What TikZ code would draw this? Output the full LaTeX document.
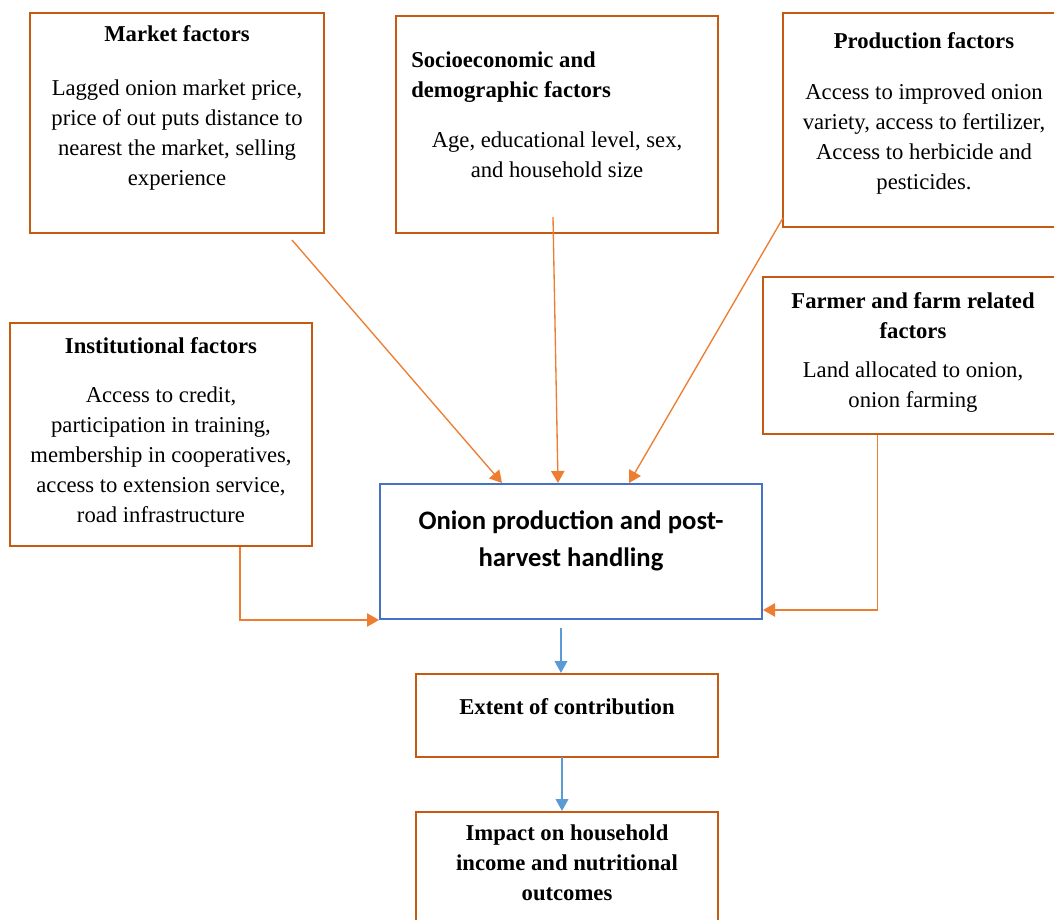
\documentclass[tikz,border=0pt]{standalone}
\usepackage{fontspec}
\setmainfont{Liberation Serif}
\newfontfamily\calfont{Carlito}
\usetikzlibrary{fit,arrows.meta,calc}
\definecolor{boxbrown}{HTML}{C55A11}
\definecolor{arrorange}{HTML}{ED7D31}
\definecolor{boxblue}{HTML}{4472C4}
\definecolor{arrblue}{HTML}{5B9BD5}
\tikzset{
  fbox/.style={draw=boxbrown, line width=1.5pt, inner sep=0pt, fill=white},
  cbox/.style={draw=boxblue, line width=1.5pt, inner sep=0pt},
  ttl/.style={inner sep=0pt, align=center, font=\fontsize{17}{22.5}\selectfont\bfseries, anchor=north},
  bdy/.style={inner sep=0pt, align=center, font=\fontsize{17}{22.5}\selectfont, anchor=north},
  oarr/.style={draw=arrorange, line width=1pt, -{Triangle[length=9pt,width=10pt]}},
  barr/.style={draw=arrblue, line width=1.3pt, -{Triangle[length=9pt,width=9.5pt]}}
}
\begin{document}
\begin{tikzpicture}[x=0.75pt,y=-0.75pt]
\useasboundingbox (0,0) rectangle (1054,920);
\clip (0,0) rectangle (1054,920);
\fill[white] (0,0) rectangle (1054,920);
% boxes
\node[fbox, fit={(30,13) (324,233)}] (market) {};
\node[fbox, fit={(396,16) (718,233)}] (socio) {};
\node[fbox, fit={(783,13) (1065,227)}] (prod) {};
\node[fbox, fit={(763,277) (1064,434)}] (farmer) {};
\node[fbox, fit={(10,323) (312,546)}] (inst) {};
\node[cbox, fit={(380,484) (762,619)}] (center) {};
\node[fbox, fit={(416,674) (718,757)}] (extent) {};
\node[fbox, fit={(416,812) (718,940)}] (impact) {};
% texts
\node[ttl] (marketT) at (177,25) {Market factors};
\node[bdy] (marketB) at (177,80) {Lagged onion market price,\\price of out puts distance to\\nearest the market, selling\\experience};
\node[ttl, anchor=north west, align=left] (socioT) at (411,52) {Socioeconomic and\\demographic factors};
\node[bdy] (socioB) at (557,132) {Age, educational level, sex,\\and household size};
\node[ttl] (prodT) at (924,32) {Production factors};
\node[bdy] (prodB) at (924,84) {Access to improved onion\\variety, access to fertilizer,\\Access to herbicide and\\pesticides.};
\node[ttl] (farmerT) at (913,292) {Farmer and farm related\\factors};
\node[bdy] (farmerB) at (913,362) {Land allocated to onion,\\onion farming};
\node[ttl] (instT) at (161,337) {Institutional factors};
\node[bdy] (instB) at (161,387) {Access to credit,\\participation in training,\\membership in cooperatives,\\access to extension service,\\road infrastructure};
\node[inner sep=0pt, align=center, anchor=north, font=\fontsize{20}{28}\selectfont\calfont\bfseries] (centerT) at (571,510) {Onion production and post-\\harvest handling};
\node[ttl] (extentT) at (567,698) {Extent of contribution};
\node[ttl] (impactT) at (567,825) {Impact on household\\income and nutritional\\outcomes};
% connectors
\coordinate (mkS) at (292,240);
\coordinate (soS) at (553,217);
\coordinate (prS) at (783,218);
\draw[oarr] (mkS) -- ([xshift=92.25pt]center.north west);
\draw[oarr] (soS) -- ([xshift=134.25pt]center.north west);
\draw[oarr] (prS) -- ([xshift=187.5pt]center.north west);
\draw[oarr] ([xshift=59.25pt]inst.south) |- (center.south west);
\draw[oarr] ([xshift=-27pt]farmer.south) |- ([yshift=7.5pt]center.south east);
\coordinate (b1) at (561,628);
\coordinate (b2) at (562,757);
\draw[barr] (b1) -- (b1 |- extent.north);
\draw[barr] (b2) -- (b2 |- impact.north);
\end{tikzpicture}
\end{document}
